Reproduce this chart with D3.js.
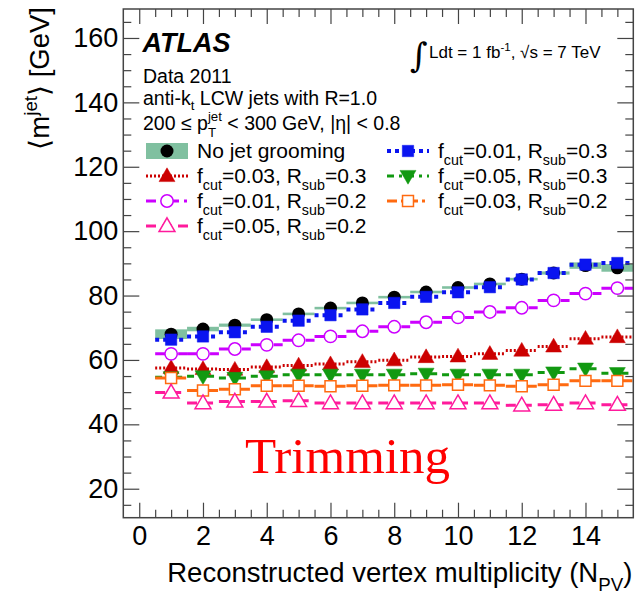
<!DOCTYPE html>
<html><head><meta charset="utf-8">
<script src="https://cdn.jsdelivr.net/npm/d3@7"></script>
<style>
body{margin:0;background:#fff;}
text{white-space:pre;}
</style></head>
<body><svg id="c" width="636" height="600" style="font-family:'Liberation Sans',Arial,sans-serif"></svg>
<script>
// ---------------- data ----------------
const nPV = [1,2,3,4,5,6,7,8,9,10,11,12,13,14,15];
const noGrooming   = [68.0,69.6,70.8,72.5,74.3,76.1,77.7,79.5,81.1,82.5,83.6,85.1,87.0,89.3,88.6];
const noGroomBand  = [1.5,0.7,0.5,0.4,0.4,0.4,0.4,0.4,0.4,0.4,0.4,0.4,0.5,1.0,1.2];
const f001R03 = [66.3,67.3,68.6,70.3,72.2,73.9,75.7,77.7,79.6,81.0,82.6,85.0,87.0,89.6,90.1];
const f003R03 = [57.5,57.2,57.0,57.8,58.3,58.7,59.4,59.9,60.9,61.1,61.9,62.9,64.2,66.6,67.1];
const f005R03 = [54.6,54.9,54.4,54.9,55.4,55.4,55.4,55.4,55.7,55.4,55.4,55.4,56.1,57.3,55.9];
const f001R02 = [61.9,61.9,63.4,64.7,66.1,67.3,68.9,70.3,71.7,73.2,74.9,76.2,78.5,80.6,82.3];
const f003R02 = [54.4,50.5,50.9,52.0,52.0,51.8,52.0,52.1,52.1,52.3,52.1,51.8,52.3,53.5,53.5];
const f005R02 = [49.9,46.6,47.1,47.1,47.3,46.6,46.6,46.6,46.6,46.6,46.6,45.9,46.1,46.6,46.1];
const xTicks = [0,2,4,6,8,10,12,14];
const yTicks = [20,40,60,80,100,120,140,160];

// ---------------- setup ----------------
const svg = d3.select("#c");
const L=123.3, R=633.3, T=9, B=517.7;
const x = d3.scaleLinear([-0.5,15.5],[L,R]);
const y = d3.scaleLinear([11,169],[B,T]);

const series = [
  {name:[["f"],["cut","sub"],["=0.01, R"],["sub","sub"],["=0.3"]], v:f001R03, color:"#0a14f0", sym:d3.symbolSquare, size:130, fill:true, dash:"4,4", sw:4, rot:0},
  {name:[["f"],["cut","sub"],["=0.03, R"],["sub","sub"],["=0.3"]], v:f003R03, color:"#cc0000", sym:d3.symbolTriangle, size:110, fill:true, dash:"2,2", sw:3, rot:0},
  {name:[["f"],["cut","sub"],["=0.05, R"],["sub","sub"],["=0.3"]], v:f005R03, color:"#119911", sym:d3.symbolTriangle, size:110, fill:true, dash:"7,5,3,5", sw:3, rot:180},
  {name:[["f"],["cut","sub"],["=0.01, R"],["sub","sub"],["=0.2"]], v:f001R02, color:"#cc00ff", sym:d3.symbolCircle, size:120, fill:false, dash:"10,5,3,5", sw:3, rot:0},
  {name:[["f"],["cut","sub"],["=0.03, R"],["sub","sub"],["=0.2"]], v:f003R02, color:"#ff6a10", sym:d3.symbolSquare, size:120, fill:false, dash:"10,4,3,4", sw:3, rot:0},
  {name:[["f"],["cut","sub"],["=0.05, R"],["sub","sub"],["=0.2"]], v:f005R02, color:"#ff1a9c", sym:d3.symbolTriangle, size:110, fill:false, dash:"10,6", sw:3, rot:0},
];

// ---------------- rich text helper ----------------
function rich(parent, x0, y0, parts, size, subOff, supOff) {
  subOff = subOff === undefined ? 0.33 : subOff;
  supOff = supOff === undefined ? 0.42 : supOff;
  const g = parent.append("g");
  let cx = x0;
  for (const p of parts) {
    const [t, kind] = p;
    if (kind === "sub" || kind === "sup") {
      const fs = size*0.68;
      const dy = kind === "sub" ? size*subOff : -size*supOff;
      const te = g.append("text").attr("x",cx).attr("y",y0+dy).attr("font-size",fs).text(t);
      cx += te.node().getComputedTextLength();
    } else if (kind === "subsup") {
      const fs = size*0.68;
      const a = g.append("text").attr("x",cx).attr("y",y0-size*supOff).attr("font-size",fs).text(t[1]);
      const b = g.append("text").attr("x",cx).attr("y",y0+size*subOff).attr("font-size",fs).text(t[0]);
      cx += Math.max(a.node().getComputedTextLength(), b.node().getComputedTextLength());
    } else {
      const te = g.append("text").attr("x",cx).attr("y",y0).attr("font-size",size).text(t);
      cx += te.node().getComputedTextLength();
    }
  }
  return {g, w: cx - x0};
}

// ---------------- band + series ----------------
const plot = svg.append("g");
plot.selectAll("rect.band").data(nPV).join("rect")
  .attr("x", d => x(d-0.5)).attr("width", d => x(d+0.5)-x(d-0.5))
  .attr("y", (d,i) => y(noGrooming[i]+noGroomBand[i]))
  .attr("height", (d,i) => Math.max(2, y(noGrooming[i]-noGroomBand[i]) - y(noGrooming[i]+noGroomBand[i])))
  .attr("fill", "#80c0a0");

plot.selectAll("circle.ng").data(nPV).join("circle")
  .attr("cx", d => x(d)).attr("cy", (d,i) => y(noGrooming[i])).attr("r", 6.5).attr("fill", "#000");

function marker(g, s, cx, cy) {
  g.append("path").attr("d", d3.symbol(s.sym, s.size)())
    .attr("transform", `translate(${cx},${cy}) rotate(${s.rot})` + (s.sym===d3.symbolTriangle ? ` translate(0,1)` : ""))
    .attr("fill", s.fill ? s.color : "#fff")
    .attr("stroke", s.color).attr("stroke-width", s.fill ? 0.5 : 1.5);
}

for (const s of series) {
  const g = plot.append("g");
  g.selectAll("line").data(nPV).join("line")
    .attr("x1", d => x(d-0.5)).attr("x2", d => x(d+0.5))
    .attr("y1", (d,i) => y(s.v[i])).attr("y2", (d,i) => y(s.v[i]))
    .attr("stroke", s.color).attr("stroke-width", s.sw).attr("stroke-dasharray", s.dash);
}
for (const s of series) {
  const g = plot.append("g");
  nPV.forEach((d,i) => marker(g, s, x(d), y(s.v[i])));
}

// ---------------- axes ----------------
const axG = svg.append("g").attr("color","#444");
const minorX = d3.range(-0.5, 15.51, 0.5).filter(v => !xTicks.includes(v) && v > -0.5 && v < 15.5);
const minorY = d3.range(15, 169, 5).filter(v => !yTicks.includes(v));
function styleAxis(g, labels) {
  g.select(".domain").remove();
  g.selectAll(".tick line").attr("stroke","#444").attr("stroke-width",1.2);
  if (!labels) g.selectAll(".tick text").remove();
}
const lblStyle = g => g.selectAll(".tick text").attr("font-size",27).attr("fill","#000")
  .style("font-family","'Liberation Sans', Arial, sans-serif");
axG.append("g").attr("transform",`translate(0,${B})`)
  .call(d3.axisBottom(x).tickValues(xTicks).tickSizeInner(-15).tickSizeOuter(0).tickPadding(8).tickFormat(d3.format("d")))
  .call(g => styleAxis(g,true)).call(lblStyle);
axG.append("g").attr("transform",`translate(0,${B})`)
  .call(d3.axisBottom(x).tickValues(minorX).tickSizeInner(-8).tickSizeOuter(0).tickFormat(""))
  .call(g => styleAxis(g,false));
axG.append("g").attr("transform",`translate(0,${T})`)
  .call(d3.axisTop(x).tickValues(xTicks).tickSizeInner(-15).tickSizeOuter(0).tickFormat(""))
  .call(g => styleAxis(g,false));
axG.append("g").attr("transform",`translate(0,${T})`)
  .call(d3.axisTop(x).tickValues(minorX).tickSizeInner(-8).tickSizeOuter(0).tickFormat(""))
  .call(g => styleAxis(g,false));
axG.append("g").attr("transform",`translate(${L},0)`)
  .call(d3.axisLeft(y).tickValues(yTicks).tickSizeInner(-16).tickSizeOuter(0).tickPadding(5).tickFormat(d3.format("d")))
  .call(g => styleAxis(g,true)).call(lblStyle);
axG.append("g").attr("transform",`translate(${L},0)`)
  .call(d3.axisLeft(y).tickValues(minorY).tickSizeInner(-8).tickSizeOuter(0).tickFormat(""))
  .call(g => styleAxis(g,false));
axG.append("g").attr("transform",`translate(${R},0)`)
  .call(d3.axisRight(y).tickValues(yTicks).tickSizeInner(-16).tickSizeOuter(0).tickFormat(""))
  .call(g => styleAxis(g,false));
axG.append("g").attr("transform",`translate(${R},0)`)
  .call(d3.axisRight(y).tickValues(minorY).tickSizeInner(-8).tickSizeOuter(0).tickFormat(""))
  .call(g => styleAxis(g,false));
svg.append("rect").attr("x",L).attr("y",T).attr("width",R-L).attr("height",B-T)
  .attr("fill","none").attr("stroke","#444").attr("stroke-width",1.5);

// ---------------- axis titles ----------------
const xt = rich(svg, 0, 582, [["Reconstructed vertex multiplicity (N"],["PV","sub"],[")"]], 27.5);
xt.g.attr("transform", `translate(${R - 1 - xt.w},0)`);
const ytG = svg.append("g");
const yt = rich(ytG, 0, 0, [["\u27E8m"],["jet","sup"],["\u27E9 [GeV]"]], 27.5);
ytG.attr("transform", `translate(49,${7 + yt.w}) rotate(-90)`);

// ---------------- header texts ----------------
svg.append("text").attr("x",142.5).attr("y",52).attr("font-size",27)
  .attr("font-weight","bold").attr("font-style","italic").text("ATLAS");
svg.append("text").attr("x",143).attr("y",82.5).attr("font-size",19.5).text("Data 2011");
rich(svg, 143, 104.5, [["anti-k"],["t","sub"],[" LCW jets with R=1.0"]], 19.5, 0.28, 0.4);
rich(svg, 143, 130, [["200 \u2264 p"],[["T","jet"],"subsup"],[" < 300 GeV, |\u03B7| < 0.8"]], 19.5, 0.38, 0.46);

svg.append("text").attr("x",410).attr("y",67).attr("font-size",34)
  .style("font-family","'DejaVu Serif', 'DejaVu Sans', serif").text("\u222B");
rich(svg, 429, 58, [["Ldt = 1 fb"],["-1","sup"],[", \u221As = 7 TeV"]], 17);

svg.append("text").attr("x",245).attr("y",473).attr("font-size",51)
  .style("font-family","'Liberation Serif','Times New Roman',serif").attr("fill","#ff0000").text("Trimming");

// ---------------- legend ----------------
const leg = svg.append("g");
const rowsY = [151, 176, 201, 226];
const legendItems = [
  {col:0,row:1,s:series[1]},{col:0,row:2,s:series[3]},{col:0,row:3,s:series[5]},
  {col:1,row:0,s:series[0]},{col:1,row:1,s:series[2]},{col:1,row:2,s:series[4]},
];
const colX = [146, 387];
const textX = [197, 438];
leg.append("rect").attr("x",146).attr("y",rowsY[0]-8).attr("width",42).attr("height",16).attr("fill","#80c0a0");
leg.append("circle").attr("cx",167).attr("cy",rowsY[0]).attr("r",6.5).attr("fill","#000");
leg.append("text").attr("x",textX[0]).attr("y",rowsY[0]+7).attr("font-size",21).text("No jet grooming");
for (const it of legendItems) {
  const s = it.s, cy = rowsY[it.row], x0 = colX[it.col];
  leg.append("line").attr("x1",x0).attr("x2",x0+42).attr("y1",cy).attr("y2",cy)
    .attr("stroke",s.color).attr("stroke-width",s.sw).attr("stroke-dasharray",s.dash);
  marker(leg, s, x0+21, cy);
  rich(leg, textX[it.col], cy+7, s.name, 21);
}
</script></body></html>
